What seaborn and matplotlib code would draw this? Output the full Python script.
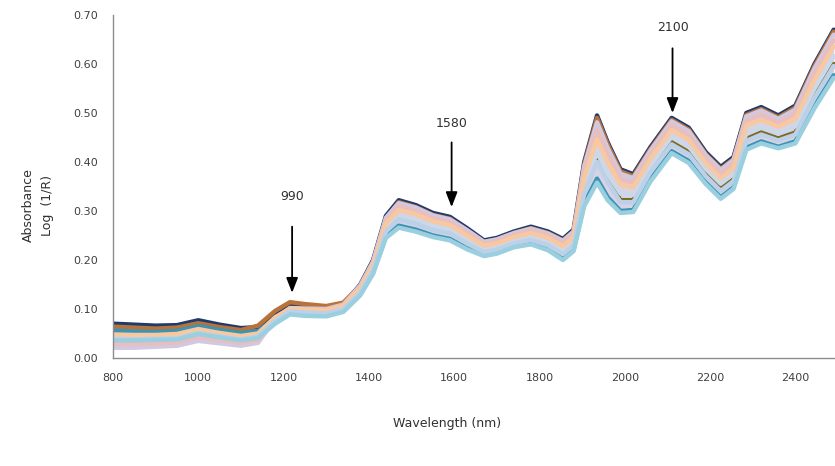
import pandas as pd
import seaborn as sns
import matplotlib
matplotlib.use("Agg")
import matplotlib.pyplot as plt

# wavelength grid (nm)
wavelength = [800, 850, 900, 950, 1000, 1050, 1100, 1140, 1180, 1215, 1250, 1300, 1340, 1380, 1410,
              1440, 1470, 1510, 1550, 1590, 1630, 1670, 1700, 1740, 1780, 1820, 1855, 1880, 1905,
              1935, 1960, 1990, 2020, 2060, 2110, 2150, 2190, 2225, 2255, 2285, 2320, 2360, 2400,
              2445, 2490]

# absorbance spectra, one list per sample
s_navy = [.070, .068, .066, .067, .077, .068, .061, .063, .091, .108, .104, .100, .108, .150, .200,
          .290, .322, .312, .296, .288, .265, .240, .245, .258, .268, .258, .243, .262, .400,
          .495, .440, .385, .375, .430, .490, .470, .420, .390, .410, .500, .512, .495, .515,
          .600, .670]
s_brown = [.064, .062, .060, .062, .071, .063, .057, .066, .096, .114, .110, .106, .113, .148, .196,
           .285, .318, .308, .292, .284, .261, .237, .242, .255, .265, .255, .240, .258, .395,
           .490, .436, .381, .371, .426, .486, .466, .416, .386, .406, .496, .508, .491, .511,
           .596, .666]
s_olive = [.050, .049, .049, .051, .061, .053, .047, .052, .082, .099, .096, .094, .103, .138, .184,
           .262, .287, .278, .265, .258, .238, .220, .225, .238, .245, .234, .216, .234, .340,
           .405, .363, .322, .322, .383, .440, .420, .375, .345, .365, .447, .460, .448, .460,
           .535, .600]
s_teal = [.056, .054, .053, .055, .065, .057, .051, .055, .080, .095, .092, .090, .098, .131, .175,
          .249, .270, .262, .250, .243, .224, .210, .215, .228, .234, .222, .203, .221, .315,
          .366, .328, .300, .302, .364, .422, .402, .358, .328, .348, .429, .442, .431, .442,
          .515, .577]
s_pale = [.032, .031, .032, .034, .045, .038, .033, .039, .080, .099, .096, .094, .102, .138, .185,
          .265, .291, .282, .269, .262, .241, .222, .227, .240, .248, .237, .219, .238, .350,
          .420, .375, .336, .333, .392, .452, .432, .386, .356, .376, .459, .471, .458, .473,
          .550, .616]
s_lavender = [.021, .021, .023, .025, .035, .030, .025, .031, .080, .102, .101, .100, .109, .148, .197,
              .286, .316, .307, .291, .283, .261, .237, .242, .255, .264, .254, .239, .258, .391,
              .481, .428, .376, .367, .423, .483, .463, .414, .384, .404, .493, .505, .488, .507,
              .591, .660]
s_pink = [.029, .029, .030, .032, .043, .037, .031, .037, .079, .100, .099, .098, .108, .145, .194,
          .280, .310, .300, .285, .277, .256, .233, .238, .251, .260, .250, .234, .252, .380,
          .465, .414, .365, .358, .415, .474, .454, .406, .376, .396, .484, .496, .480, .498,
          .580, .648]
s_peach = [.048, .047, .047, .049, .059, .051, .045, .050, .083, .101, .099, .097, .106, .142, .190,
           .274, .302, .293, .279, .271, .250, .229, .234, .247, .255, .245, .228, .247, .368,
           .447, .399, .354, .348, .406, .465, .445, .397, .367, .387, .474, .486, .472, .488,
           .568, .636]
s_lightblue = [.039, .038, .039, .040, .051, .044, .038, .044, .076, .095, .093, .091, .100, .134, .180,
               .258, .283, .274, .261, .254, .234, .216, .221, .234, .241, .230, .212, .230, .336,
               .400, .359, .318, .318, .379, .436, .416, .371, .341, .361, .443, .456, .444, .456,
               .531, .596]
s_cyan = [.036, .036, .037, .038, .049, .042, .036, .041, .070, .089, .086, .085, .094, .128, .172,
          .245, .266, .258, .247, .240, .222, .208, .213, .226, .232, .220, .200, .218, .310,
          .358, .322, .296, .298, .360, .418, .398, .355, .325, .345, .425, .438, .428, .438,
          .510, .572]

spectra = {
    "navy": s_navy, "brown": s_brown, "olive": s_olive, "teal": s_teal,
    "pale": s_pale, "lavender": s_lavender, "pink": s_pink, "peach": s_peach,
    "lightblue": s_lightblue, "cyan": s_cyan,
}
colors = {
    "navy": "#1F3B6E", "brown": "#B8733A", "olive": "#7A6A22", "teal": "#3C93B4",
    "pale": "#CBD8EA", "lavender": "#D2C8E0", "pink": "#E8BEBE", "peach": "#F8C9A0",
    "lightblue": "#BCD0E8", "cyan": "#9ACFE0",
}

# peak markers: label, arrow x, text y, arrow tail y, arrow head y
peak_labels = ["990", "1580", "2100"]
peak_x = [1220, 1594, 2112]
peak_text_y = [0.330, 0.478, 0.675]
peak_tail_y = [0.268, 0.440, 0.632]
peak_head_y = [0.133, 0.308, 0.500]

df = pd.DataFrame(spectra)
df["wavelength"] = wavelength
long_df = df.melt(id_vars="wavelength", var_name="sample", value_name="absorbance")

sns.set_style("white")
plt.rcParams["font.family"] = ["DejaVu Sans"]

fig = plt.figure(figsize=(8.35, 4.66), dpi=100)
ax = fig.add_axes([113 / 835, 1 - 358 / 466, 1 - 113 / 835, (358 - 15) / 466])

# the many overlapping samples read as one pale band between the extremes
low_edge = df[list(spectra.keys())].min(axis=1)
high_edge = df[list(spectra.keys())].max(axis=1)
ax.fill_between(df["wavelength"], low_edge, high_edge, color="#D8D3E4", lw=0)

sns.lineplot(data=long_df, x="wavelength", y="absorbance", hue="sample",
             hue_order=list(spectra.keys()), palette=colors, linewidth=3.2,
             legend=False, ax=ax, solid_joinstyle="round", solid_capstyle="round")

for lab, x, ty, t0, t1 in zip(peak_labels, peak_x, peak_text_y, peak_tail_y, peak_head_y):
    ax.annotate("", xy=(x, t1), xytext=(x, t0),
                arrowprops=dict(arrowstyle="-|>,head_width=0.35,head_length=0.9",
                                color="black", lw=1.3, shrinkA=0, shrinkB=0))
    ax.text(x, ty, lab, ha="center", va="center", fontsize=9, color="#303030")

ax.set_xlim(800, 2493)
ax.set_ylim(0, 0.70)
ax.set_xticks(range(800, 2401, 200))
ax.set_yticks([i / 10 for i in range(8)])
ax.set_yticklabels([f"{i / 10:.2f}" for i in range(8)])
ax.set_xlabel("")
ax.set_ylabel("")
for side in ["top", "right"]:
    ax.spines[side].set_visible(False)
for side in ["left", "bottom"]:
    ax.spines[side].set_color("#8C8C8C")
    ax.spines[side].set_linewidth(1.0)
ax.tick_params(axis="both", direction="out", length=5, width=1, color="#8C8C8C",
               labelsize=8, labelcolor="#404040", pad=6)

fig.text(38 / 835, 1 - 205 / 466, "Absorbance\nLog  (1/R)", rotation=90,
         ha="center", va="center", fontsize=9, color="#303030", multialignment="center",
         linespacing=1.6)
fig.text(447 / 835, 1 - 424 / 466, "Wavelength (nm)", ha="center", va="center",
         fontsize=9, color="#303030")

fig.savefig("out.png", dpi=100)
